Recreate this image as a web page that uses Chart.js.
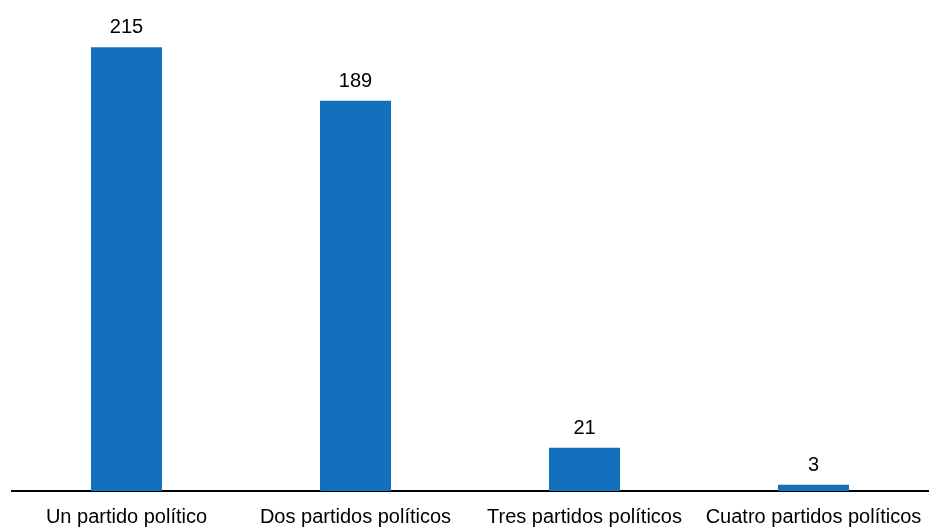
<!DOCTYPE html>
<html>
<head>
<meta charset="utf-8">
<script src="https://cdn.jsdelivr.net/npm/chart.js@4/dist/chart.umd.min.js"></script>
<style>
  html, body { margin: 0; padding: 0; background: #fff; }
  canvas { display: block; }
</style>
</head>
<body>
<canvas id="myBarChart" width="930" height="527"></canvas>
<script>
// data
const categories = ['Un partido político', 'Dos partidos políticos', 'Tres partidos políticos', 'Cuatro partidos políticos'];
const values = [215, 189, 21, 3];

const barColor = '#1270bd';
const fontFamily = '"Liberation Sans", Arial, sans-serif';

// draw the value above each bar
const valueLabels = {
    id: 'valueLabels',
    afterDatasetsDraw(chart) {
        const ctx = chart.ctx;
        const meta = chart.getDatasetMeta(0);
        ctx.save();
        ctx.font = '20px ' + fontFamily;
        ctx.fillStyle = '#000';
        ctx.textAlign = 'center';
        ctx.textBaseline = 'alphabetic';
        meta.data.forEach((bar, i) => {
            ctx.fillText(String(values[i]), bar.x, bar.y - 14);
        });
        ctx.restore();
    }
};

const ctx = document.getElementById('myBarChart');
const barChart = new Chart(ctx, {
    type: 'bar',
    data: {
        labels: categories,
        datasets: [{
            data: values,
            backgroundColor: barColor,
            borderWidth: 0,
            categoryPercentage: 1,
            barPercentage: 0.31
        }]
    },
    options: {
        responsive: false,
        animation: false,
        layout: { padding: { left: 12, right: 2, top: 10, bottom: 0 } },
        plugins: {
            legend: { display: false },
            tooltip: { enabled: false }
        },
        scales: {
            x: {
                grid: { display: false, drawTicks: false },
                border: { display: true, color: '#000', width: 2 },
                ticks: {
                    color: '#000',
                    padding: 14,
                    maxRotation: 0,
                    autoSkip: false,
                    font: { size: 20, family: fontFamily }
                },
                afterFit: (scale) => {
                    scale.height = 36;
                    scale.paddingLeft = 0;
                    scale.paddingRight = 0;
                }
            },
            y: {
                display: false,
                min: 0,
                max: 233
            }
        }
    },
    plugins: [valueLabels]
});
</script>
</body>
</html>
